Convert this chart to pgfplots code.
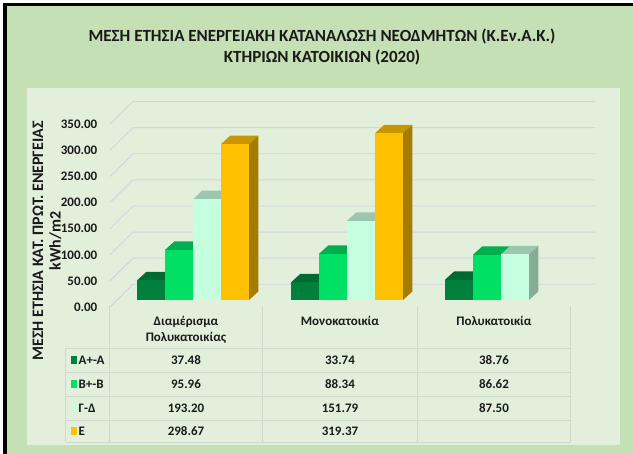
\documentclass[border=0pt]{standalone}
\usepackage{fontspec}
\setmainfont{Carlito}
\usepackage{pgfplots}
\pgfplotsset{compat=1.18}
\definecolor{outerbg}{HTML}{C5E0B4}
\definecolor{innerbg}{HTML}{E2EFDA}
\definecolor{gridc}{HTML}{D3D3DE}
\definecolor{tabline}{HTML}{D0D8CC}
\definecolor{txt}{HTML}{1A1A1A}
\definecolor{Af}{HTML}{00803C}\definecolor{At}{HTML}{006A30}\definecolor{As}{HTML}{005A28}
\definecolor{Bf}{HTML}{00E064}\definecolor{Bt}{HTML}{00AE4E}\definecolor{Bs}{HTML}{009E46}
\definecolor{Cf}{HTML}{C6FFE0}\definecolor{Ct}{HTML}{9CC6AE}\definecolor{Cs}{HTML}{86AC96}
\definecolor{Ef}{HTML}{FFC000}\definecolor{Et}{HTML}{C89600}\definecolor{Es}{HTML}{A67C00}
% 3D column drawn at each data point: front face, top face, side face
\newcommand\declarebar[4]{%
 \pgfdeclareplotmark{#1}{%
  \pgfmathsetlengthmacro\bh{\val*0.522bp}%
  \pgfmathsetlengthmacro\bhb{8.5bp-\val*0.522bp}%
  \pgfsetfillcolor{#3}%
  \pgfpathmoveto{\pgfqpoint{-14bp}{0pt}}%
  \pgfpathlineto{\pgfqpoint{-4.7bp}{8.5bp}}%
  \pgfpathlineto{\pgfqpoint{23.3bp}{8.5bp}}%
  \pgfpathlineto{\pgfqpoint{14bp}{0pt}}%
  \pgfpathclose
  \pgfusepath{fill}%
  \pgfsetfillcolor{#4}%
  \pgfpathmoveto{\pgfqpoint{14bp}{0pt}}%
  \pgfpathlineto{\pgfqpoint{23.3bp}{8.5bp}}%
  \pgfpathlineto{\pgfqpoint{23.3bp}{\bhb}}%
  \pgfpathlineto{\pgfqpoint{14bp}{-\bh}}%
  \pgfpathclose
  \pgfusepath{fill}%
  \pgfsetfillcolor{#2}%
  \pgfpathrectanglecorners{\pgfqpoint{-14bp}{-\bh}}{\pgfqpoint{14bp}{0pt}}%
  \pgfusepath{fill}%
 }}
\declarebar{barA}{Af}{At}{As}
\declarebar{barB}{Bf}{Bt}{Bs}
\declarebar{barC}{Cf}{Ct}{Cs}
\declarebar{barE}{Ef}{Et}{Es}
\newcommand\tf{\fontsize{13bp}{16bp}\selectfont\bfseries}
\begin{document}
\begin{tikzpicture}
\useasboundingbox (0,0) rectangle (633bp,454bp);
\fill[white] (0,0) rectangle (633bp,454bp);
\begin{scope}[x=1bp,y=-1bp,yshift=454bp]
 \fill[black] (3,3) rectangle (633,454);
 \fill[outerbg] (6.7,6.3) rectangle (633,454);
 \fill[innerbg] (26.7,88.3) rectangle (619.5,445.5);
 \node[txt, font=\fontsize{17bp}{21bp}\selectfont\bfseries, align=center] at (322,47)
   {ΜΕΣΗ ΕΤΗΣΙΑ ΕΝΕΡΓΕΙΑΚΗ ΚΑΤΑΝΑΛΩΣΗ ΝΕΟΔΜΗΤΩΝ (Κ.Εν.Α.Κ.)\\ΚΤΗΡΙΩΝ ΚΑΤΟΙΚΙΩΝ (2020)};
 \foreach \v in {0,50,...,350} {
   \draw[gridc, line width=0.9bp] (110,{307-0.522*\v}) -- (133,{284.3-0.522*\v}) -- (595,{284.3-0.522*\v});
   \node[txt, anchor=east, font=\tf, inner sep=0pt] at (97.5,{307-0.522*\v})
     {\pgfmathprintnumber[assume math mode=true,fixed,fixed zerofill,precision=2]{\v}};
 }
 \node[txt, rotate=90, align=center, font=\fontsize{16bp}{17.5bp}\selectfont\bfseries] at (47,241)
   {ΜΕΣΗ ΕΤΗΣΙΑ ΚΑΤ. ΠΡΩΤ. ΕΝΕΡΓΕΙΑΣ\\kWh/m2};
\end{scope}
\begin{axis}[anchor=origin, at={(0bp,154bp)}, x=1bp, y=0.522bp,
  xmin=0, xmax=633, ymin=-280, ymax=560, hide axis, clip=false]
\addplot[only marks, mark=barA, visualization depends on={rawy \as \val}]
  coordinates {(151,37.48) (305,33.74) (459,38.76)};
\addplot[only marks, mark=barB, visualization depends on={rawy \as \val}]
  coordinates {(179,95.96) (333,88.34) (487,86.62)};
\addplot[only marks, mark=barC, visualization depends on={rawy \as \val}]
  coordinates {(207,193.20) (361,151.79) (515,87.50)};
\addplot[only marks, mark=barE, visualization depends on={rawy \as \val}]
  coordinates {(235,298.67) (389,319.37)};
\end{axis}
\begin{scope}[x=1bp,y=-1bp,yshift=454bp]
 % data table grid
 \foreach \xx in {109.3,262.7,417,570} \draw[tabline, line width=0.9bp] (\xx,306) -- (\xx,442.5);
 \draw[tabline, line width=0.9bp] (65.7,348.3) -- (65.7,442.5);
 \foreach \yy in {348.3,372,396,420,442.5} \draw[tabline, line width=0.9bp] (65.7,\yy) -- (570,\yy);
 % header
 \node[txt, font=\tf, align=center] at (186,330) {Διαμέρισμα\\Πολυκατοικίας};
 \node[txt, font=\tf] at (340,321) {Μονοκατοικία};
 \node[txt, font=\tf] at (494,321) {Πολυκατοικία};
 % rows
 \foreach \yc/\col/\lab/\a/\b/\c in {360/Af/A+-A/37.48/33.74/38.76, 384/Bf/B+-B/95.96/88.34/86.62, 408/Cf/Γ-Δ/193.20/151.79/87.50, 431.5/Ef/E/298.67/319.37/} {
   \fill[\col] (70.7,\yc-4) rectangle (76.7,\yc+4);
   \node[txt, font=\tf, anchor=west, inner sep=0pt] at (78.5,\yc) {\lab};
   \node[txt, font=\tf] at (186,\yc) {\a};
   \node[txt, font=\tf] at (340,\yc) {\b};
   \node[txt, font=\tf] at (494,\yc) {\c};
 }
\end{scope}
\end{tikzpicture}
\end{document}
